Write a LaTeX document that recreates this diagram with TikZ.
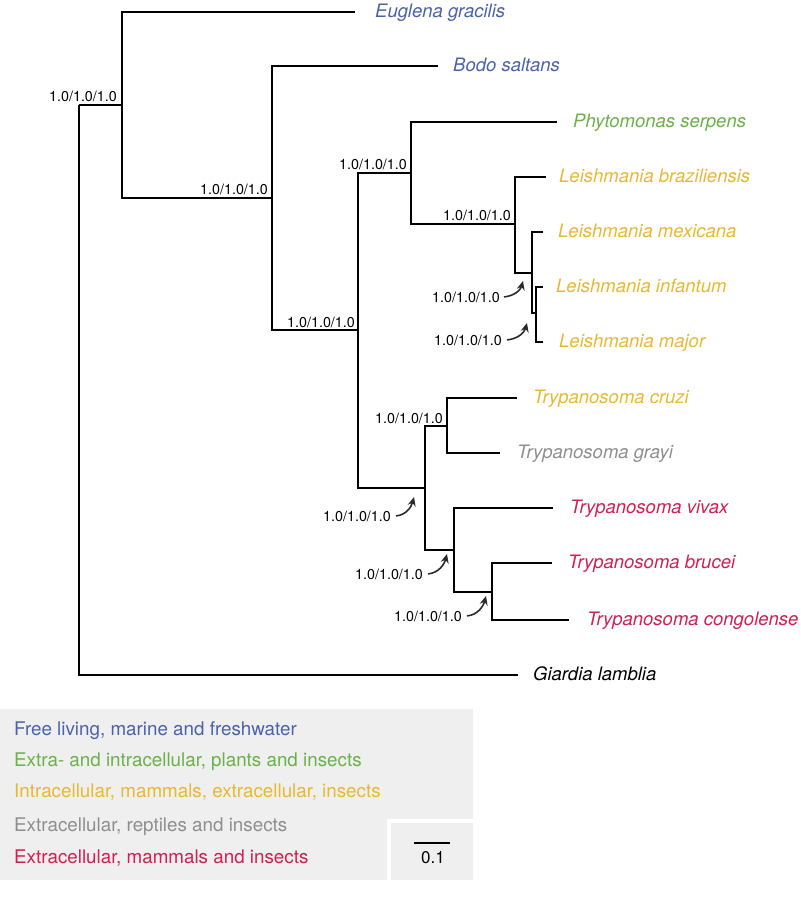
\documentclass[tikz,border=0pt]{standalone}
\usepackage{fontspec}
\setmainfont{TeX Gyre Heros}
\usetikzlibrary{arrows.meta}
\definecolor{cblue}{HTML}{4B62AA}
\definecolor{cgreen}{HTML}{6BB04A}
\definecolor{cyellow}{HTML}{E8B830}
\definecolor{cgray}{HTML}{8E8E8E}
\definecolor{cred}{HTML}{D11F52}
\definecolor{legendbg}{HTML}{EFEFEF}
\definecolor{arrowgray}{HTML}{2A2A2A}
\begin{document}
\begin{tikzpicture}[x=1pt,y=-1pt,
  branch/.style={line width=1.8pt, black},
  taxon/.style={anchor=base west, inner sep=0pt, font=\fontsize{18.5}{20}\selectfont\itshape},
  support/.style={anchor=base east, inner sep=0pt, font=\fontsize{14.3}{16}\selectfont},
  pointer/.style={line width=1.6pt, draw=arrowgray, -{Stealth[length=9pt,width=8pt,inset=3pt]}},
  legendtext/.style={anchor=base west, inner sep=0pt, font=\fontsize{18.8}{20}\selectfont}]
\useasboundingbox (0,0) rectangle (800,901);

% ---- tree coordinates ----
\coordinate (R) at (79,105);
\coordinate (A) at (122,105);
\coordinate (B) at (272,198);
\coordinate (C) at (358,330);
\coordinate (D) at (411,173);
\coordinate (E) at (515,224);
\coordinate (F) at (532,273);
\coordinate (G) at (536,313);
\coordinate (H) at (425,488);
\coordinate (I) at (447,426);
\coordinate (J) at (454,550);
\coordinate (K) at (492,592);
% leaves
\coordinate (eug) at (355,12);
\coordinate (bod) at (438,66);
\coordinate (phy) at (557,122);
\coordinate (bra) at (546,177);
\coordinate (mex) at (543,232);
\coordinate (inf) at (543,287);
\coordinate (maj) at (543,342);
\coordinate (cru) at (517,398);
\coordinate (gra) at (500,453);
\coordinate (viv) at (553,508);
\coordinate (bru) at (552,563);
\coordinate (con) at (569,620);
\coordinate (gia) at (518,675);

% ---- branches ----
\draw[branch] (R) |- (A);
\draw[branch] (R) |- (gia);
\draw[branch] (A) |- (eug);
\draw[branch] (A) |- (B);
\draw[branch] (B) |- (bod);
\draw[branch] (B) |- (C);
\draw[branch] (C) |- (D);
\draw[branch] (C) |- (H);
\draw[branch] (D) |- (phy);
\draw[branch] (D) |- (E);
\draw[branch] (E) |- (bra);
\draw[branch] (E) |- (F);
\draw[branch] (F) |- (mex);
\draw[branch] (F) |- (G);
\draw[branch] (G) |- (inf);
\draw[branch] (G) |- (maj);
\draw[branch] (H) |- (I);
\draw[branch] (H) |- (J);
\draw[branch] (I) |- (cru);
\draw[branch] (I) |- (gra);
\draw[branch] (J) |- (viv);
\draw[branch] (J) |- (K);
\draw[branch] (K) |- (bru);
\draw[branch] (K) |- (con);

% ---- taxon labels ----
\node[taxon, text=cblue] (teug) at (375,17.5) {Euglena gracilis};
\node[taxon, text=cblue] (tbod) at (453,71.5) {Bodo saltans};
\node[taxon, text=cgreen] (tphy) at (573,127.5) {Phytomonas serpens};
\node[taxon, text=cyellow] (tbra) at (559,182.5) {Leishmania braziliensis};
\node[taxon, text=cyellow] (tmex) at (558,237.5) {Leishmania mexicana};
\node[taxon, text=cyellow] (tinf) at (556,292.5) {Leishmania infantum};
\node[taxon, text=cyellow] (tmaj) at (559,347.5) {Leishmania major};
\node[taxon, text=cyellow] (tcru) at (533,403.5) {Trypanosoma cruzi};
\node[taxon, text=cgray] (tgra) at (517,458.5) {Trypanosoma grayi};
\node[taxon, text=cred] (tviv) at (570,513.5) {Trypanosoma vivax};
\node[taxon, text=cred] (tbru) at (568,568.5) {Trypanosoma brucei};
\node[taxon, text=cred] (tcon) at (587,625.5) {Trypanosoma congolense};
\node[taxon, text=black] (tgia) at (533,680.5) {Giardia lamblia};

% ---- support values ----
\node[support] (sA) at (117,102) {1.0/1.0/1.0};
\node[support] (sB) at (268,195) {1.0/1.0/1.0};
\node[support] (sC) at (355,327) {1.0/1.0/1.0};
\node[support] (sD) at (407,170) {1.0/1.0/1.0};
\node[support] (sE) at (511,221) {1.0/1.0/1.0};
\node[support] (sI) at (443,423) {1.0/1.0/1.0};

\node[support] (sF) at (500,302) {1.0/1.0/1.0};
\node[support] (sG) at (502,345) {1.0/1.0/1.0};
\node[support] (sH) at (391,521) {1.0/1.0/1.0};
\node[support] (sJ) at (423,579) {1.0/1.0/1.0};
\node[support] (sK) at (462,621) {1.0/1.0/1.0};

\coordinate (pF) at (523,281);
\coordinate (pG) at (527,323);
\coordinate (pH) at (414,497);
\coordinate (pJ) at (447,554);
\coordinate (pK) at (486,596);

\draw[pointer] ([xshift=4pt]sF.east) to[out=5, in=-105] (pF);
\draw[pointer] ([xshift=5pt]sG.east) to[out=5, in=-105] (pG);
\draw[pointer] ([xshift=5pt]sH.east) to[out=5, in=-105] (pH);
\draw[pointer] ([xshift=5pt]sJ.east) to[out=5, in=-105] (pJ);
\draw[pointer] ([xshift=5pt]sK.east) to[out=5, in=-105] (pK);

% ---- legend ----
\fill[legendbg] (0,709) rectangle (473,880);
\draw[white, line width=4pt] (389,880) -- (389,820.5) -- (473,820.5);
\node[legendtext, text=cblue] (l1) at (14,735) {Free living, marine and freshwater};
\node[legendtext, text=cgreen] (l2) at (14,766) {Extra- and intracellular, plants and insects};
\node[legendtext, text=cyellow] (l3) at (14,797.5) {Intracellular, mammals, extracellular, insects};
\node[legendtext, text=cgray] (l4) at (14,831.5) {Extracellular, reptiles and insects};
\node[legendtext, text=cred] (l5) at (14,863) {Extracellular, mammals and insects};

% ---- scale bar ----
\coordinate (sb1) at (414,843);
\coordinate (sb2) at (450,843);
\draw[line width=1.8pt] (sb1) -- (sb2);
\node[anchor=base, inner sep=0pt, font=\fontsize{17}{18}\selectfont] (sbl) at (433,863) {0.1};
\end{tikzpicture}
\end{document}
